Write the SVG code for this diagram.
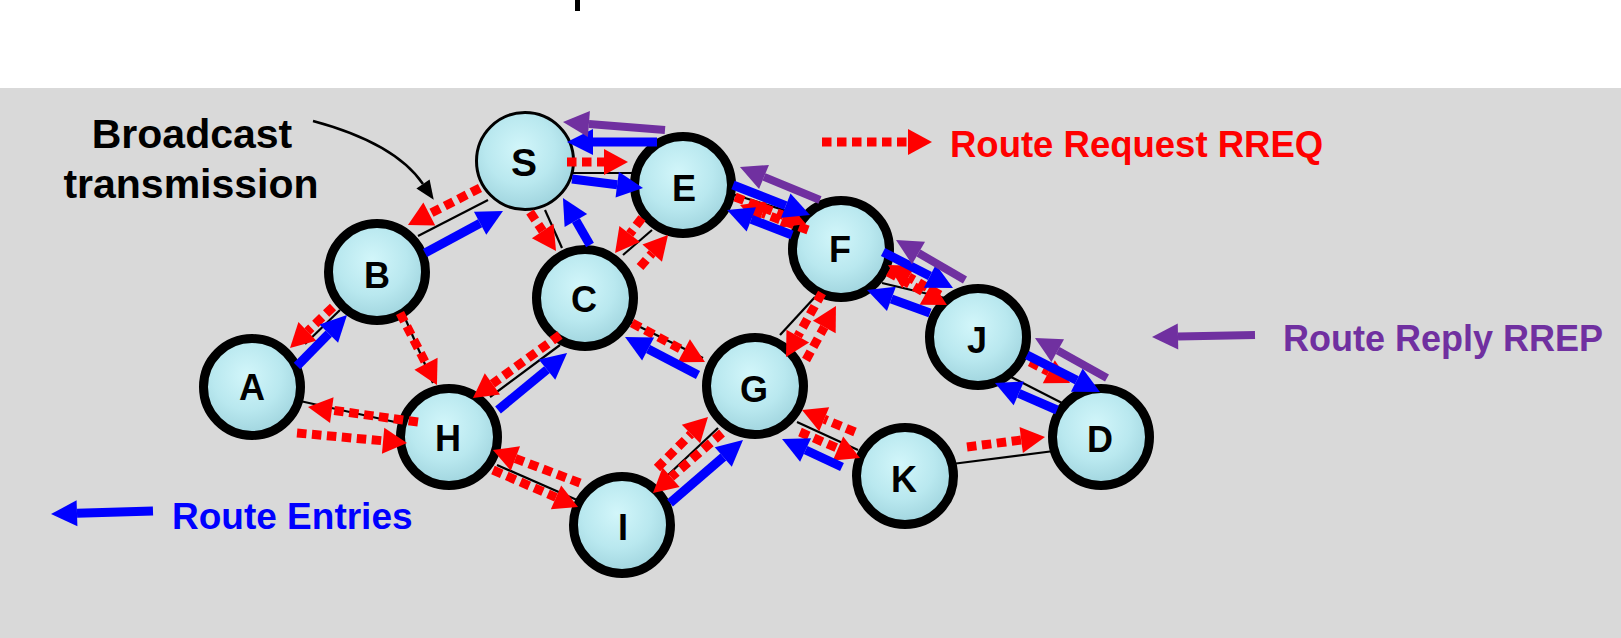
<svg xmlns="http://www.w3.org/2000/svg" width="1621" height="638" viewBox="0 0 1621 638">
<style>
.lbl{font-family:"Liberation Sans",Arial,Helvetica,sans-serif;font-weight:bold;}
.nt{font-size:36px;fill:#000;text-anchor:middle;}
.node{fill:url(#ng);stroke:#000;stroke-width:9;}
.src{fill:url(#ng);stroke:#000;stroke-width:3;}
.link{stroke:#000;stroke-width:2.2;fill:none;}
.blue{stroke:#0000ff;stroke-width:9;fill:none;marker-end:url(#hb);}
.purp{stroke:#7030a0;stroke-width:8;fill:none;marker-end:url(#hp);}
.red{stroke:#ff0000;stroke-width:9;fill:none;stroke-dasharray:9.5 5.5;marker-end:url(#hr);}
</style>
<defs>
<radialGradient id="ng" cx="45%" cy="38%" r="65%">
<stop offset="0" stop-color="#d2f6fa"/>
<stop offset="0.55" stop-color="#b9e8ef"/>
<stop offset="1" stop-color="#9dd2dc"/>
</radialGradient>
<marker id="hb" viewBox="0 -13 26 26" refX="0" refY="0" markerWidth="26" markerHeight="26" markerUnits="userSpaceOnUse" orient="auto" overflow="visible"><path d="M0,-13 L26,0 L0,13 z" fill="#0000ff"/></marker>
<marker id="hp" viewBox="0 -13 26 26" refX="0" refY="0" markerWidth="26" markerHeight="26" markerUnits="userSpaceOnUse" orient="auto" overflow="visible"><path d="M0,-13 L26,0 L0,13 z" fill="#7030a0"/></marker>
<marker id="hr" viewBox="0 -13 24 26" refX="0" refY="0" markerWidth="24" markerHeight="26" markerUnits="userSpaceOnUse" orient="auto" overflow="visible"><path d="M0,-13 L24,0 L0,13 z" fill="#ff0000"/></marker>
<marker id="hk" viewBox="0 -8 19 16" refX="0" refY="0" markerWidth="19" markerHeight="16" markerUnits="userSpaceOnUse" orient="auto" overflow="visible"><path d="M0,-8 L19,0 L0,8 z" fill="#000"/></marker>
</defs>
<rect x="0" y="0" width="1621" height="638" fill="#ffffff"/>
<rect x="0" y="88" width="1621" height="550" fill="#d9d9d9"/>
<rect x="575" y="0" width="5" height="11" fill="#000"/>

<g id="nodes">
<g id="node-S"><circle class="src" cx="525" cy="161" r="48.5"/><text class="lbl nt" x="524" y="176" style="font-size:39px">S</text></g>
<g id="node-E"><circle class="node" cx="683" cy="185" r="48.5"/><text class="lbl nt" x="684" y="201">E</text></g>
<g id="node-F"><circle class="node" cx="841" cy="249" r="48.5"/><text class="lbl nt" x="840" y="262">F</text></g>
<g id="node-J"><circle class="node" cx="978" cy="337" r="48.5"/><text class="lbl nt" x="977" y="353">J</text></g>
<g id="node-D"><circle class="node" cx="1101" cy="437" r="48.5"/><text class="lbl nt" x="1100" y="452">D</text></g>
<g id="node-K"><circle class="node" cx="905" cy="476" r="48.5"/><text class="lbl nt" x="904" y="492">K</text></g>
<g id="node-G"><circle class="node" cx="755" cy="386" r="48.5"/><text class="lbl nt" x="754" y="402">G</text></g>
<g id="node-I"><circle class="node" cx="622" cy="525" r="48.5"/><text class="lbl nt" x="623" y="540">I</text></g>
<g id="node-H"><circle class="node" cx="449" cy="437" r="48.5"/><text class="lbl nt" x="448" y="451">H</text></g>
<g id="node-A"><circle class="node" cx="252" cy="387" r="48.5"/><text class="lbl nt" x="252" y="400">A</text></g>
<g id="node-B"><circle class="node" cx="377" cy="272" r="48.5"/><text class="lbl nt" x="377" y="288">B</text></g>
<g id="node-C"><circle class="node" cx="585" cy="298" r="48.5"/><text class="lbl nt" x="584" y="312">C</text></g>
</g>

<g id="connectors">
<line class="link" x1="418" y1="236" x2="488" y2="200"/>
<line class="link" x1="572" y1="173" x2="634" y2="173"/>
<line class="link" x1="545" y1="210" x2="562" y2="248"/>
<line class="link" x1="623" y1="255" x2="652" y2="230"/>
<line class="link" x1="729" y1="193" x2="800" y2="215"/>
<line class="link" x1="882" y1="283" x2="945" y2="298"/>
<line class="link" x1="1011" y1="377" x2="1064" y2="404"/>
<line class="link" x1="952" y1="464" x2="1054" y2="451"/>
<line class="link" x1="797" y1="422" x2="858" y2="450"/>
<line class="link" x1="718" y1="428" x2="668" y2="475"/>
<line class="link" x1="780" y1="335" x2="815" y2="297"/>
<line class="link" x1="630" y1="322" x2="703" y2="358"/>
<line class="link" x1="490" y1="397" x2="560" y2="345"/>
<line class="link" x1="497" y1="465" x2="577" y2="500"/>
<line class="link" x1="300" y1="401" x2="404" y2="424"/>
<line class="link" x1="305" y1="344" x2="340" y2="310"/>
<line class="link" x1="405" y1="318" x2="433" y2="383"/>

<line class="red" x1="567" y1="162" x2="604" y2="162"/>
<line class="red" x1="480" y1="188" x2="429.3" y2="214"/>
<line class="red" x1="530" y1="212" x2="542.7" y2="231"/>
<line class="red" x1="642" y1="218" x2="629.7" y2="234"/>
<line class="red" x1="640" y1="267" x2="652.2" y2="253.1"/>
<line class="red" x1="735" y1="197" x2="783.6" y2="215.5"/>
<line class="red" x1="808" y1="230" x2="762.5" y2="213.3"/>
<line class="red" x1="333" y1="307" x2="307.4" y2="331.4"/>
<line class="red" x1="400" y1="313" x2="426" y2="363.7"/>
<line class="red" x1="418" y1="422" x2="331.8" y2="410.2"/>
<line class="red" x1="297" y1="433" x2="383.1" y2="440.8"/>
<line class="red" x1="560" y1="335" x2="492.4" y2="383.9"/>
<line class="red" x1="493" y1="470" x2="556" y2="497.4"/>
<line class="red" x1="580" y1="483" x2="515.4" y2="458.5"/>
<line class="red" x1="632" y1="323" x2="683.8" y2="350.7"/>
<line class="red" x1="822" y1="293" x2="797.8" y2="336.1"/>
<line class="red" x1="806" y1="360" x2="824.3" y2="327"/>
<line class="red" x1="722" y1="433" x2="671.1" y2="477.2"/>
<line class="red" x1="657" y1="468" x2="691" y2="434"/>
<line class="red" x1="800" y1="432" x2="838" y2="448.5"/>
<line class="red" x1="855" y1="432" x2="824.2" y2="419.2"/>
<line class="red" x1="967" y1="447" x2="1021.2" y2="440"/>
<line class="red" x1="888" y1="272" x2="926" y2="293.3"/>
<line class="red" x1="940" y1="295" x2="908.8" y2="277"/>
<line class="red" x1="1030" y1="362" x2="1048.8" y2="371.8"/>

<line class="blue" x1="657" y1="142" x2="593" y2="142"/>
<line class="blue" x1="572" y1="179" x2="617.2" y2="184.7"/>
<line class="blue" x1="425" y1="253" x2="480.1" y2="223.3"/>
<line class="blue" x1="297" y1="366" x2="328.8" y2="333.6"/>
<line class="blue" x1="590" y1="245" x2="575.9" y2="220.5"/>
<line class="blue" x1="498" y1="410" x2="547" y2="369.6"/>
<line class="blue" x1="698" y1="375" x2="648.1" y2="349"/>
<line class="blue" x1="670" y1="503" x2="723.3" y2="457"/>
<line class="blue" x1="842" y1="467" x2="805.6" y2="450"/>
<line class="blue" x1="733" y1="185" x2="785.8" y2="205.6"/>
<line class="blue" x1="792" y1="235" x2="751.3" y2="219.3"/>
<line class="blue" x1="883" y1="252" x2="929.9" y2="276.1"/>
<line class="blue" x1="930" y1="313" x2="891.4" y2="298.9"/>
<line class="blue" x1="1027" y1="355" x2="1076.8" y2="380.2"/>
<line class="blue" x1="1057" y1="410" x2="1018.8" y2="393.4"/>

<line class="purp" x1="665" y1="130" x2="588.9" y2="124"/>
<line class="purp" x1="820" y1="200" x2="764" y2="176.9"/>
<line class="purp" x1="965" y1="280" x2="918.5" y2="253"/>
<line class="purp" x1="1107" y1="378" x2="1057.7" y2="350.6"/>

<path d="M313,121 Q395,143 423,184" fill="none" stroke="#000" stroke-width="2.5" marker-end="url(#hk)"/>
</g>

<g id="legend">
<line class="red" x1="822" y1="142" x2="908" y2="142"/>
<text class="lbl" x="950" y="157" font-size="36.5" fill="#ff0000">Route Request RREQ</text>
<line class="purp" x1="1255" y1="335" x2="1178" y2="336.5"/>
<text class="lbl" x="1283" y="351" font-size="36" fill="#7030a0">Route Reply RREP</text>
<line class="blue" x1="153" y1="511" x2="77" y2="513.3"/>
<text class="lbl" x="172" y="529" font-size="37" fill="#0000ff">Route Entries</text>
<text class="lbl" x="192" y="148" font-size="41" fill="#000" text-anchor="middle">Broadcast</text>
<text class="lbl" x="191" y="198" font-size="41" fill="#000" text-anchor="middle">transmission</text>
</g>
</svg>
